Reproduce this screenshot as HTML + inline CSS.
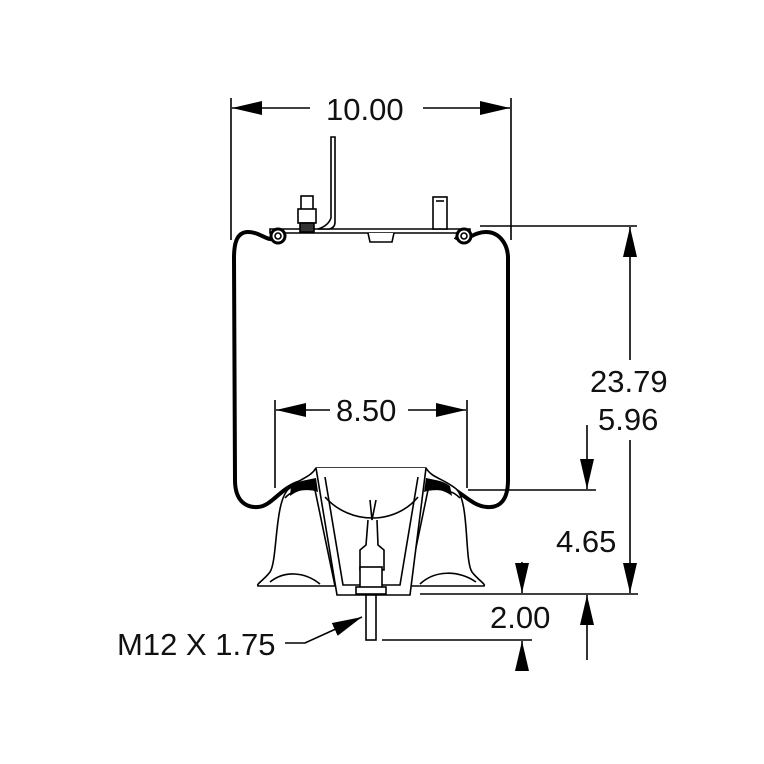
<!DOCTYPE html>
<html><head><style>html,body{margin:0;padding:0;background:#fff}svg{display:block}text{font-family:"Liberation Sans",sans-serif;fill:#111}</style></head>
<body>
<svg width="764" height="764" viewBox="0 0 764 764" xmlns="http://www.w3.org/2000/svg">
<defs>
<marker id="b" viewBox="0 0 30 14" refX="30" refY="7" markerWidth="30" markerHeight="14" markerUnits="userSpaceOnUse" orient="auto-start-reverse"><path d="M0,0 L30,7 L0,14z" fill="#000"/></marker>
</defs>
<g stroke="#000" fill="none" stroke-width="1.6">
<line x1="231" y1="98" x2="231" y2="240"/>
<line x1="511" y1="98" x2="511" y2="240"/>
<line x1="310" y1="108" x2="232" y2="108" marker-end="url(#b)"/>
<line x1="423" y1="108" x2="510" y2="108" marker-end="url(#b)"/>
<line x1="275" y1="400" x2="275" y2="488"/>
<line x1="467" y1="400" x2="467" y2="488"/>
<line x1="330" y1="410" x2="276" y2="410" marker-end="url(#b)"/>
<line x1="408" y1="410" x2="466" y2="410" marker-end="url(#b)"/>
<line x1="480" y1="226" x2="637" y2="226"/>
<line x1="630" y1="360" x2="630" y2="227" marker-end="url(#b)"/>
<line x1="630" y1="440" x2="630" y2="593" marker-end="url(#b)"/>
<line x1="468" y1="490" x2="596" y2="490"/>
<line x1="587" y1="425" x2="587" y2="489" marker-end="url(#b)"/>
<line x1="420" y1="594" x2="638" y2="594"/>
<line x1="587" y1="660" x2="587" y2="595" marker-end="url(#b)"/>
<line x1="522" y1="562" x2="522" y2="593" marker-end="url(#b)"/>
<line x1="382" y1="640" x2="532" y2="640"/>
<line x1="522" y1="670" x2="522" y2="641" marker-end="url(#b)"/>
<polyline points="285,643 305,643 362,617" marker-end="url(#b)"/>
</g>
<path d="M278,237 C268,244 262,232 248,232 C236,232 234,245 234,258 L235,480 C235,500 245,508 258,507 C272,506 280,488 300,482 M455,237 C465,244 472,232 486,232 C500,232 508,245 508,258 L508,480 C508,500 500,508 487,507 C470,506 460,488 438,482" stroke="#000" stroke-width="4" fill="none"/>
<g stroke="#000" fill="#fff" stroke-width="1.6">
<path d="M270,229 L470,229 L470,233 L270,233z"/>
<path d="M368,233 L370,242 L392,242 L394,233"/>
<circle cx="278" cy="236" r="7" stroke-width="3"/><circle cx="278" cy="236" r="3"/>
<circle cx="464" cy="236" r="7" stroke-width="3"/><circle cx="464" cy="236" r="3"/>
<path d="M331,137 L335,137 L335,222 Q335,228 329,229 L318,229 Q328,226 331,218z"/>
<rect x="301" y="196" width="12" height="14"/>
<rect x="298" y="209" width="18" height="14"/>
<rect x="300" y="223" width="14" height="9" fill="#333"/>
<rect x="433" y="197" width="14" height="32"/>
<line x1="436" y1="201" x2="444" y2="201"/>
</g>
<g stroke="#000" fill="#fff" stroke-width="1.6">
<path d="M290,488 C300,478 310,478 316,468 L426,468 C432,478 442,478 455,488 C470,498 464,560 472,572 C478,580 486,584 484,586 L258,586 C256,584 264,580 270,572 C278,560 274,498 290,488z"/>
<path d="M285,498 C292,490 302,488 315,490 L335,586 M460,498 C452,490 442,488 428,490 L408,586" />
<path d="M316,468 L337,595 L410,595 L426,468"/>
<path d="M325,477 L343,585 L400,585 L418,477" fill="none"/>
<path d="M325,497 C350,525 395,525 418,497" fill="none"/>
<path d="M370,500 L372,520 L376,500 M368,520 L366,545 L360,550 L360,570 L384,570 L384,550 L378,545 L377,520" fill="none"/>
<rect x="360" y="567" width="22" height="22"/>
<rect x="356" y="587" width="30" height="7"/>
<rect x="366" y="595" width="10" height="45"/>
<path d="M270,582 C285,570 305,572 320,584 M420,584 C435,570 458,570 476,582" fill="none"/>
</g>
<path d="M291,486 C300,480 308,480 316,478 L318,492 C306,488 298,490 290,496z M450,486 C442,480 434,480 426,478 L424,492 C436,488 444,490 452,496z" fill="#000"/>
<g font-size="31">
<text x="326" y="120">10.00</text>
<text x="336" y="421">8.50</text>
<text x="590" y="392">23.79</text>
<text x="598" y="430">5.96</text>
<text x="556" y="552">4.65</text>
<text x="490" y="628">2.00</text>
<text x="117" y="655">M12 X 1.75</text>
</g>
</svg>
</body></html>
